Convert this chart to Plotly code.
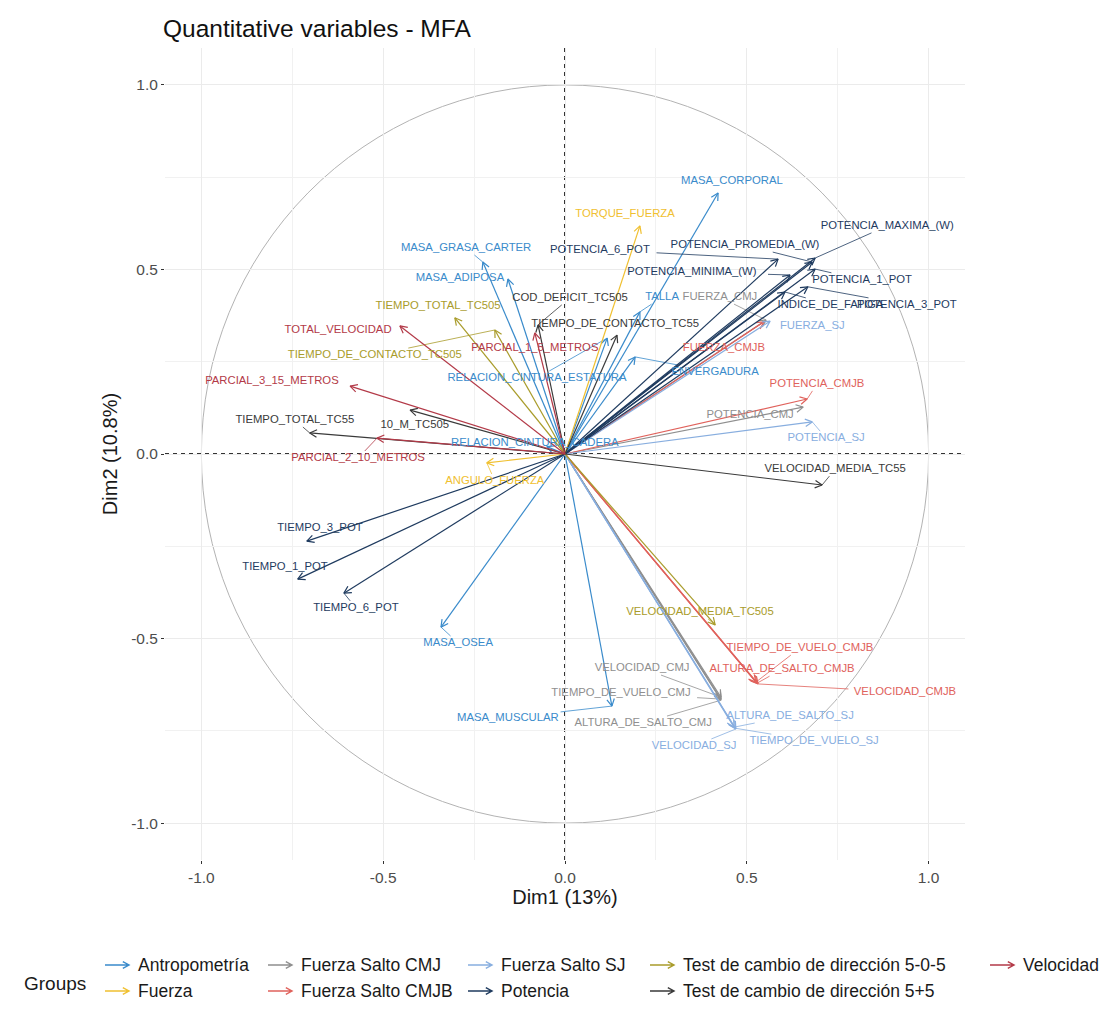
import math
import plotly.graph_objects as go

# ---------------- data ----------------
groups = ["Antropometría", "Fuerza", "Fuerza Salto CMJ", "Fuerza Salto CMJB",
          "Fuerza Salto SJ", "Potencia", "Test de cambio de dirección 5-0-5",
          "Test de cambio de dirección 5+5", "Velocidad"]
group_colors = ["#3A8BCB", "#F0C030", "#8F8F8F", "#E0625C", "#88AEDF",
                "#1F3B5F", "#A99C2B", "#3A3A3A", "#B33A48"]

variables = [
    "MASA_CORPORAL", "MASA_GRASA_CARTER", "MASA_ADIPOSA", "TALLA", "ENVERGADURA",
    "RELACION_CINTURA_ESTATURA", "RELACION_CINTURA_CADERA", "MASA_OSEA", "MASA_MUSCULAR",
    "TORQUE_FUERZA", "ANGULO_FUERZA",
    "FUERZA_CMJ", "POTENCIA_CMJ", "VELOCIDAD_CMJ", "TIEMPO_DE_VUELO_CMJ", "ALTURA_DE_SALTO_CMJ",
    "FUERZA_CMJB", "POTENCIA_CMJB", "TIEMPO_DE_VUELO_CMJB", "ALTURA_DE_SALTO_CMJB", "VELOCIDAD_CMJB",
    "FUERZA_SJ", "POTENCIA_SJ", "VELOCIDAD_SJ", "ALTURA_DE_SALTO_SJ", "TIEMPO_DE_VUELO_SJ",
    "POTENCIA_MAXIMA_(W)", "POTENCIA_PROMEDIA_(W)", "POTENCIA_1_POT", "POTENCIA_MINIMA_(W)",
    "POTENCIA_6_POT", "POTENCIA_3_POT", "INDICE_DE_FATIGA", "TIEMPO_1_POT", "TIEMPO_3_POT", "TIEMPO_6_POT",
    "TIEMPO_TOTAL_TC505", "TIEMPO_DE_CONTACTO_TC505", "VELOCIDAD_MEDIA_TC505",
    "TIEMPO_TOTAL_TC55", "TIEMPO_DE_CONTACTO_TC55", "VELOCIDAD_MEDIA_TC55", "COD_DEFICIT_TC505", "10_M_TC505",
    "TOTAL_VELOCIDAD", "PARCIAL_3_15_METROS", "PARCIAL_2_10_METROS", "PARCIAL_1_5_METROS",
]
variable_group = (
    ["Antropometría"] * 9 + ["Fuerza"] * 2 + ["Fuerza Salto CMJ"] * 5 +
    ["Fuerza Salto CMJB"] * 5 + ["Fuerza Salto SJ"] * 5 + ["Potencia"] * 10 +
    ["Test de cambio de dirección 5-0-5"] * 3 + ["Test de cambio de dirección 5+5"] * 5 +
    ["Velocidad"] * 4
)
dim1 = [
    0.421, -0.226, -0.157, 0.206, 0.193, 0.116, -0.050, -0.341, 0.129,
    0.206, -0.215,
    0.553, 0.655, 0.429, 0.429, 0.429,
    0.547, 0.666, 0.525, 0.528, 0.531,
    0.564, 0.680, 0.470, 0.465, 0.468,
    0.688, 0.680, 0.688, 0.619, 0.586, 0.668, 0.605, -0.735, -0.710, -0.608,
    -0.303, -0.193, 0.413,
    -0.702, 0.143, 0.707, -0.074, -0.426,
    -0.454, -0.591, -0.517, -0.083,
]
dim2 = [
    0.707, 0.520, 0.474, 0.385, 0.263, 0.314, 0.020, -0.469, -0.683,
    0.618, -0.024,
    0.363, 0.127, -0.659, -0.664, -0.667,
    0.358, 0.149, -0.618, -0.621, -0.623,
    0.360, 0.087, -0.745, -0.740, -0.743,
    0.531, 0.520, 0.501, 0.485, 0.528, 0.453, 0.439, -0.339, -0.236, -0.377,
    0.369, 0.336, -0.463,
    0.057, 0.322, -0.084, 0.350, 0.119,
    0.347, 0.184, 0.043, 0.328,
]

# repelled label positions (layout)
label_x = [
    0.459, -0.272, -0.289, 0.267, 0.413, -0.077, -0.083, -0.294, -0.157,
    0.165, -0.193,
    0.426, 0.509, 0.212, 0.154, 0.215,
    0.437, 0.693, 0.646, 0.597, 0.935,
    0.680, 0.718, 0.355, 0.619, 0.685,
    0.886, 0.495, 0.817, 0.349, 0.096, 0.940, 0.730, -0.770, -0.674, -0.575,
    -0.349, -0.523, 0.371,
    -0.743, 0.138, 0.743, 0.014, -0.413,
    -0.624, -0.806, -0.569, -0.083,
]
label_y = [
    0.740, 0.558, 0.477, 0.425, 0.222, 0.206, 0.030, -0.512, -0.715,
    0.650, -0.073,
    0.425, 0.106, -0.580, -0.648, -0.729,
    0.287, 0.190, -0.526, -0.583, -0.645,
    0.347, 0.043, -0.791, -0.710, -0.778,
    0.618, 0.566, 0.472, 0.493, 0.553, 0.404, 0.404, -0.306, -0.201, -0.417,
    0.401, 0.268, -0.428,
    0.092, 0.352, -0.041, 0.423, 0.079,
    0.336, 0.198, -0.011, 0.287,
]

# ---------------- geometry helpers ----------------
X_RANGE = [-1.1, 1.1]
Y_RANGE = [-1.1, 1.1]
PAGE_OFF = 8                     # default body margin of the html page
PLOT_L, PLOT_R, PLOT_T, PLOT_B = 165, 965, 48, 860   # absolute page pixels
PAGE_W, PAGE_H = 1117, 1009
W, H = PAGE_W - PAGE_OFF, PAGE_H - PAGE_OFF
SX = (PLOT_R - PLOT_L) / (X_RANGE[1] - X_RANGE[0])
SY = (PLOT_B - PLOT_T) / (Y_RANGE[1] - Y_RANGE[0])
HEAD_PX = 8
HEAD_ANG = math.radians(28)
LABEL_SIZE = 11.3
CHAR_W = 7.8
FONT = "Liberation Sans, Arial, sans-serif"


def chevron(x0, y0, x1, y1, sx, sy, length=HEAD_PX):
    dx, dy = (x1 - x0) * sx, (y1 - y0) * sy
    n = math.hypot(dx, dy) or 1.0
    ux, uy = dx / n, dy / n
    pts = []
    for s in (1, -1):
        c, si = math.cos(s * HEAD_ANG), math.sin(s * HEAD_ANG)
        rx, ry = ux * c - uy * si, ux * si + uy * c
        pts.append((x1 - rx * length / sx, y1 - ry * length / sy))
    return pts


color_of = dict(zip(groups, group_colors))
fig = go.Figure()

# unit circle and dashed axes
fig.add_shape(type="circle", xref="x", yref="y", x0=-1, y0=-1, x1=1, y1=1,
              line=dict(color="#B3B3B3", width=1), layer="below")
fig.add_shape(type="line", xref="x", yref="y", x0=X_RANGE[0], x1=X_RANGE[1], y0=0, y1=0,
              line=dict(color="#333333", width=2, dash="4px,4px"), layer="below")
fig.add_shape(type="line", xref="x", yref="y", x0=0, x1=0, y0=Y_RANGE[0], y1=Y_RANGE[1],
              line=dict(color="#333333", width=2, dash="4px,4px"), layer="below")

# arrows + leader segments per group
for g in groups:
    xs, ys = [], []
    lxs, lys = [], []
    for name, gg, x, y, lx, ly in zip(variables, variable_group, dim1, dim2, label_x, label_y):
        if gg != g:
            continue
        xs += [0, x, None]
        (ax1, ay1), (ax2, ay2) = chevron(0, 0, x, y, SX, SY)
        xs += [ax1, x, ax2, None]
        ys += [0, y, None, ay1, y, ay2, None]
        # leader segment from label box edge to arrow tip (ggrepel style)
        vx, vy = (x - lx) * SX, (y - ly) * SY
        hw, hh = len(name) * CHAR_W / 2 + 2, 7
        tx = hw / abs(vx) if abs(vx) > 1e-9 else 1e9
        ty = hh / abs(vy) if abs(vy) > 1e-9 else 1e9
        t = min(tx, ty)
        if t < 1 and math.hypot(vx, vy) * (1 - t) > 9:
            lxs += [lx + (x - lx) * t, x, None]
            lys += [ly + (y - ly) * t, y, None]
    fig.add_trace(go.Scatter(x=xs, y=ys, mode="lines", showlegend=False, hoverinfo="skip",
                             line=dict(color=color_of[g], width=1.2)))
    if lxs:
        fig.add_trace(go.Scatter(x=lxs, y=lys, mode="lines", showlegend=False, hoverinfo="skip",
                                 line=dict(color=color_of[g], width=0.8)))

# labels
for g in groups:
    idx = [i for i, gg in enumerate(variable_group) if gg == g]
    fig.add_trace(go.Scatter(
        x=[label_x[i] for i in idx], y=[label_y[i] for i in idx],
        text=[variables[i] for i in idx], mode="text", showlegend=False,
        hoverinfo="text", textposition="middle center",
        textfont=dict(color=color_of[g], size=LABEL_SIZE, family=FONT)))

# ---------------- custom legend (arrows like ggplot key) ----------------
def px_to_paper(px, py):
    return (px - PLOT_L) / (PLOT_R - PLOT_L), (PLOT_B - py) / (PLOT_B - PLOT_T)

legend_cols_px = [105, 268, 468, 650, 990]
legend_rows_px = [965, 991]
n_rows = 2
for k, g in enumerate(groups):
    col, row = k // n_rows, k % n_rows
    x0p, yp = legend_cols_px[col], legend_rows_px[row]
    x1p = x0p + 24
    (hx1, hy1), (hx2, hy2) = chevron(0, 0, 1, 0, 1, 1, length=7)
    a0 = px_to_paper(x0p, yp)
    a1 = px_to_paper(x1p, yp)
    c1 = px_to_paper(x1p + (hx1 - 1), yp - hy1)
    c2 = px_to_paper(x1p + (hx2 - 1), yp - hy2)
    path = (f"M {a0[0]} {a0[1]} L {a1[0]} {a1[1]} "
            f"M {c1[0]} {c1[1]} L {a1[0]} {a1[1]} L {c2[0]} {c2[1]}")
    fig.add_shape(type="path", xref="paper", yref="paper", path=path,
                  line=dict(color=color_of[g], width=1.4))
    tx, ty = px_to_paper(x0p + 31, yp)
    fig.add_annotation(xref="paper", yref="paper", x=tx, y=ty, text=g, showarrow=False,
                       xanchor="left", yanchor="middle",
                       font=dict(size=17.5, color="#1A1A1A", family=FONT))

gx, gy = px_to_paper(22, 984)
fig.add_annotation(xref="paper", yref="paper", x=gx, y=gy, text="Groups", showarrow=False,
                   xanchor="left", yanchor="middle",
                   font=dict(size=19, color="#1A1A1A", family=FONT))

# ---------------- layout ----------------
tick_vals = [-1.0, -0.5, 0.0, 0.5, 1.0]
tick_text = ["-1.0", "-0.5", "0.0", "0.5", "1.0"]
minor_vals = [-0.75, -0.25, 0.25, 0.75]
axis_common = dict(
    tickvals=tick_vals, ticktext=tick_text, showgrid=True, gridcolor="#EBEBEB", gridwidth=1,
    zeroline=False, showline=False, ticks="outside", ticklen=3, tickcolor="#333333",
    tickfont=dict(size=15.5, color="#4D4D4D", family=FONT),
    minor=dict(tickvals=minor_vals, showgrid=True, gridcolor="#F1F1F1", gridwidth=1, ticks=""),
)
fig.update_layout(
    width=W, height=H,
    margin=dict(l=PLOT_L - PAGE_OFF, r=PAGE_W - PLOT_R, t=PLOT_T - PAGE_OFF,
                b=PAGE_H - PLOT_B, autoexpand=False),
    paper_bgcolor="white", plot_bgcolor="white",
    title=dict(text="Quantitative variables - MFA", x=(163 - PAGE_OFF) / W, xanchor="left",
               y=1 - (28 - PAGE_OFF) / H, yanchor="middle",
               font=dict(size=24.5, color="#111111", family=FONT)),
    xaxis=dict(range=X_RANGE, title=dict(text="Dim1 (13%)", standoff=5,
               font=dict(size=20, color="#1A1A1A", family=FONT)),
               **axis_common),
    yaxis=dict(range=Y_RANGE, title=dict(text="Dim2 (10.8%)", standoff=8,
               font=dict(size=20, color="#1A1A1A", family=FONT)),
               **axis_common),
    showlegend=False,
)

fig.write_html("out.html")
